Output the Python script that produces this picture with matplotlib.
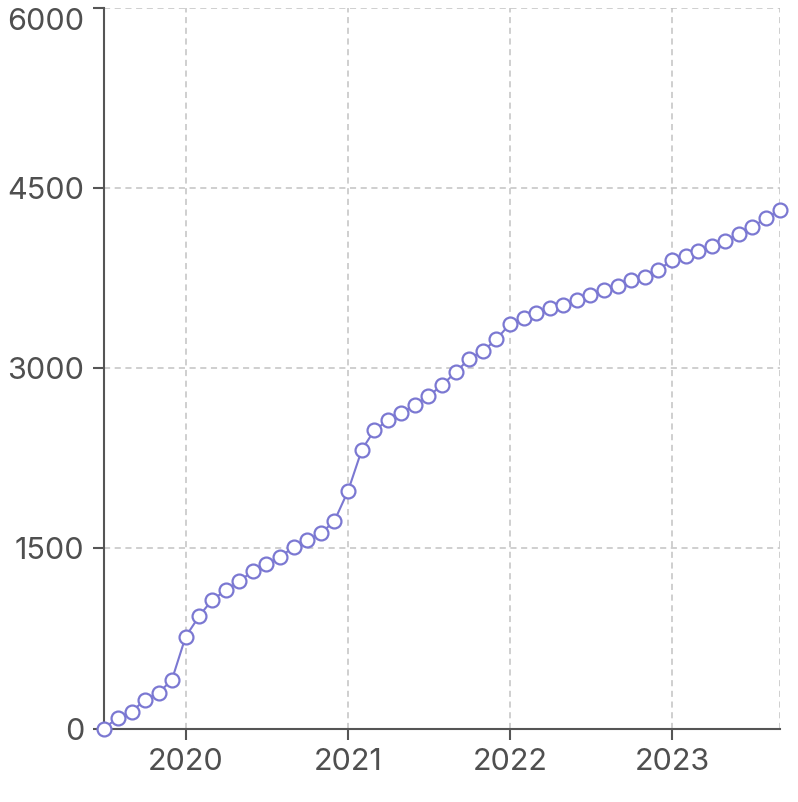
import matplotlib
matplotlib.use("Agg")
import matplotlib.pyplot as plt
import numpy as np
import pandas as pd

# Data: monthly cumulative values, Jul 2019 .. Sep 2023
start_month = "2019-07-01"
values = [0, 90, 140, 237, 296, 406, 765, 939, 1073, 1151,
          1228, 1312, 1367, 1431, 1512, 1570, 1626, 1728, 1980, 2322,
          2483, 2567, 2627, 2697, 2767, 2861, 2969, 3080, 3144, 3241,
          3371, 3415, 3462, 3502, 3529, 3569, 3610, 3649, 3685, 3735,
          3763, 3816, 3904, 3938, 3977, 4016, 4062, 4118, 4179, 4251,
          4316]
dates = pd.date_range(start_month, periods=len(values), freq="MS")
y_ticks = [0, 1500, 3000, 4500, 6000]
x_tick_years = [2020, 2021, 2022, 2023]

plt.rcParams['font.family'] = ['Inter', 'DejaVu Sans']

fig = plt.figure(figsize=(7.98, 8.02), dpi=100)
ax = fig.add_axes([104/798, 1 - 728.5/802, (780-104)/798, (728.5-8)/802])

line_color = "#7b78d2"
grid_color = "#c2c2c2"
axis_color = "#555555"

ax.plot(dates, values, color=line_color, lw=1.5, marker="o", ms=10,
        mfc="white", mec=line_color, mew=1.6, clip_on=False, zorder=5)

ax.set_xlim(dates[0], dates[-1])
ax.set_ylim(0, 6000)
ax.set_yticks(y_ticks)
ax.set_yticklabels([str(v) for v in y_ticks])
xt = [pd.Timestamp(f"{y}-01-01") for y in x_tick_years]
ax.set_xticks(xt)
ax.set_xticklabels([str(y) for y in x_tick_years])

ax.grid(True, color=grid_color, linestyle=(0, (4, 3)), lw=1.1)
ax.set_axisbelow(True)
# dashed right border like reference
ax.axvline(dates[-1], color=grid_color, linestyle=(0, (4, 3)), lw=1.1, zorder=0)

for s in ["top", "right"]:
    ax.spines[s].set_visible(False)
for s in ["left", "bottom"]:
    ax.spines[s].set_color(axis_color)
    ax.spines[s].set_linewidth(1.5)

ax.tick_params(axis="both", colors=axis_color, labelcolor="#4f4f4f",
               length=8, width=1.5, labelsize=22)
ax.tick_params(axis="x", pad=6)
ax.tick_params(axis="y", pad=6)

# top y label kept inside the figure, as in the reference
ax.get_yticklabels()[-1].set_verticalalignment("top")

fig.savefig("out.png", dpi=100)
